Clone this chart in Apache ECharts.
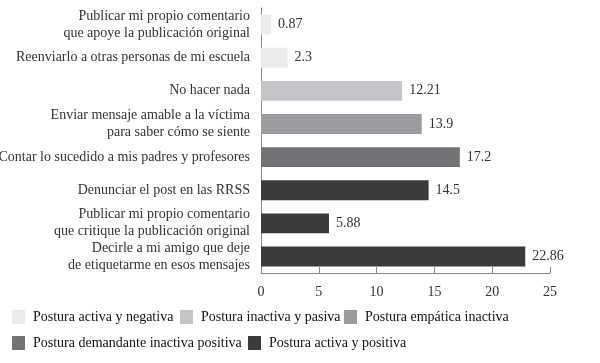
<!DOCTYPE html>
<html><head><meta charset="utf-8">
<script src="https://cdn.jsdelivr.net/npm/echarts@6/dist/echarts.min.js"></script>
<style>html,body{margin:0;padding:0;background:#fff}#c{width:600px;height:363px}</style>
</head><body><div id="c"></div>
<script>
const categories = [
  "Publicar mi propio comentario\nque apoye la publicación original",
  "Reenviarlo a otras personas de mi escuela",
  "No hacer nada",
  "Enviar mensaje amable a la víctima\npara saber cómo se siente",
  "Contar lo sucedido a mis padres y profesores",
  "Denunciar el post en las RRSS",
  "Publicar mi propio comentario\nque critique la publicación original",
  "Decirle a mi amigo que deje\nde etiquetarme en esos mensajes"
];
const values = [0.87, 2.3, 12.21, 13.9, 17.2, 14.5, 5.88, 22.86];
const groupOf = [0, 0, 1, 2, 3, 4, 4, 4];
const groupNames = [
  "Postura activa y negativa",
  "Postura inactiva y pasiva",
  "Postura empática inactiva",
  "Postura demandante inactiva positiva",
  "Postura activa y positiva"
];
const groupColors = ["#ebebee", "#c5c5c9", "#9b9a9e", "#737276", "#3b3a3c"];
const xTicks = [0, 5, 10, 15, 20, 25];

const FONT = "Liberation Serif";
const series = groupNames.map((name, g) => ({
  name: name,
  type: 'bar',
  stack: 'all',
  barCategoryGap: '40%',
  itemStyle: { color: groupColors[g] },
  label: {
    show: true, position: 'right', distance: 7,
    fontFamily: FONT, fontSize: 14, color: '#333'
  },
  data: values.map((v, i) => groupOf[i] === g ? v : null)
}));

const legendPos = [
  { left: 12, top: 310 },
  { left: 180, top: 310 },
  { left: 344, top: 310 },
  { left: 12, top: 336 },
  { left: 248, top: 336 }
];
const legends = groupNames.map((name, g) => ({
  data: [name],
  left: legendPos[g].left, top: legendPos[g].top,
  padding: 0,
  icon: 'rect', itemWidth: 13, itemHeight: 14,
  textStyle: { fontFamily: FONT, fontSize: 14, color: '#111', padding: [0, 0, 0, 3] },
  selectedMode: false
}));

const chart = echarts.init(document.getElementById('c'));
chart.setOption({
  animation: false,
  grid: { left: 261, right: 50, top: 8, bottom: 90, containLabel: false, outerBoundsMode: 'none' },
  legend: legends,
  xAxis: {
    type: 'value', min: 0, max: 25, interval: 5,
    axisLine: { show: true, lineStyle: { color: '#888' } },
    axisTick: { show: true, inside: true, length: 6, lineStyle: { color: '#888' } },
    splitLine: { show: false },
    axisLabel: { fontFamily: FONT, fontSize: 14, color: '#333', margin: 12,
      formatter: v => xTicks.includes(v) ? String(v) : '' }
  },
  yAxis: {
    type: 'category', inverse: true, data: categories,
    axisLine: { show: true, lineStyle: { color: '#888' } },
    axisTick: { show: false },
    axisLabel: { fontFamily: FONT, fontSize: 14, color: '#333', margin: 11, lineHeight: 17, interval: 0 }
  },
  series: series
});
</script></body></html>
